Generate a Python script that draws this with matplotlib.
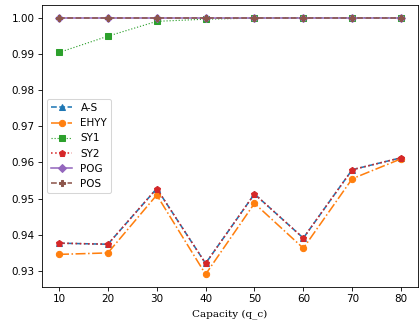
import matplotlib.pyplot as plt

capacity = [10, 20, 30, 40, 50, 60, 70, 80]
a_s = [0.9377, 0.9374, 0.9528, 0.9321, 0.9513, 0.9391, 0.9580, 0.9613]
ehyy = [0.9346, 0.9350, 0.9510, 0.9291, 0.9487, 0.9363, 0.9555, 0.9610]
sy1 = [0.9904, 0.9949, 0.9990, 0.9996, 0.9999, 1.0, 1.0, 1.0]
sy2 = [0.9377, 0.9374, 0.9528, 0.9321, 0.9513, 0.9391, 0.9580, 0.9613]
pog = [1.0, 1.0, 1.0, 1.0, 1.0, 1.0, 1.0, 1.0]
pos = [1.0, 1.0, 1.0, 1.0, 1.0, 1.0, 1.0, 1.0]

dpi = 75
fig, ax = plt.subplots(figsize=(419 / dpi, 327 / dpi), dpi=dpi)
fig.subplots_adjust(left=0.100, right=0.998, bottom=0.122, top=0.985)

ax.plot(capacity, a_s, '--', marker='^', color='tab:blue', label='A-S')
ax.plot(capacity, ehyy, '-.', marker='o', color='tab:orange', label='EHYY')
ax.plot(capacity, sy1, ':', marker='s', color='tab:green', lw=1.1, label='SY1')
ax.plot(capacity, sy2, ':', marker='p', color='tab:red', label='SY2')
ax.plot(capacity, pog, '-', marker='D', color='tab:purple', label='POG')
ax.plot(capacity, pos, '--', marker='P', color='tab:brown', label='POS')

ax.set_xlabel('Capacity (q_c)', family='DejaVu Serif', labelpad=5)
ax.legend(loc='center left')

fig.savefig('out.png', dpi=dpi)
